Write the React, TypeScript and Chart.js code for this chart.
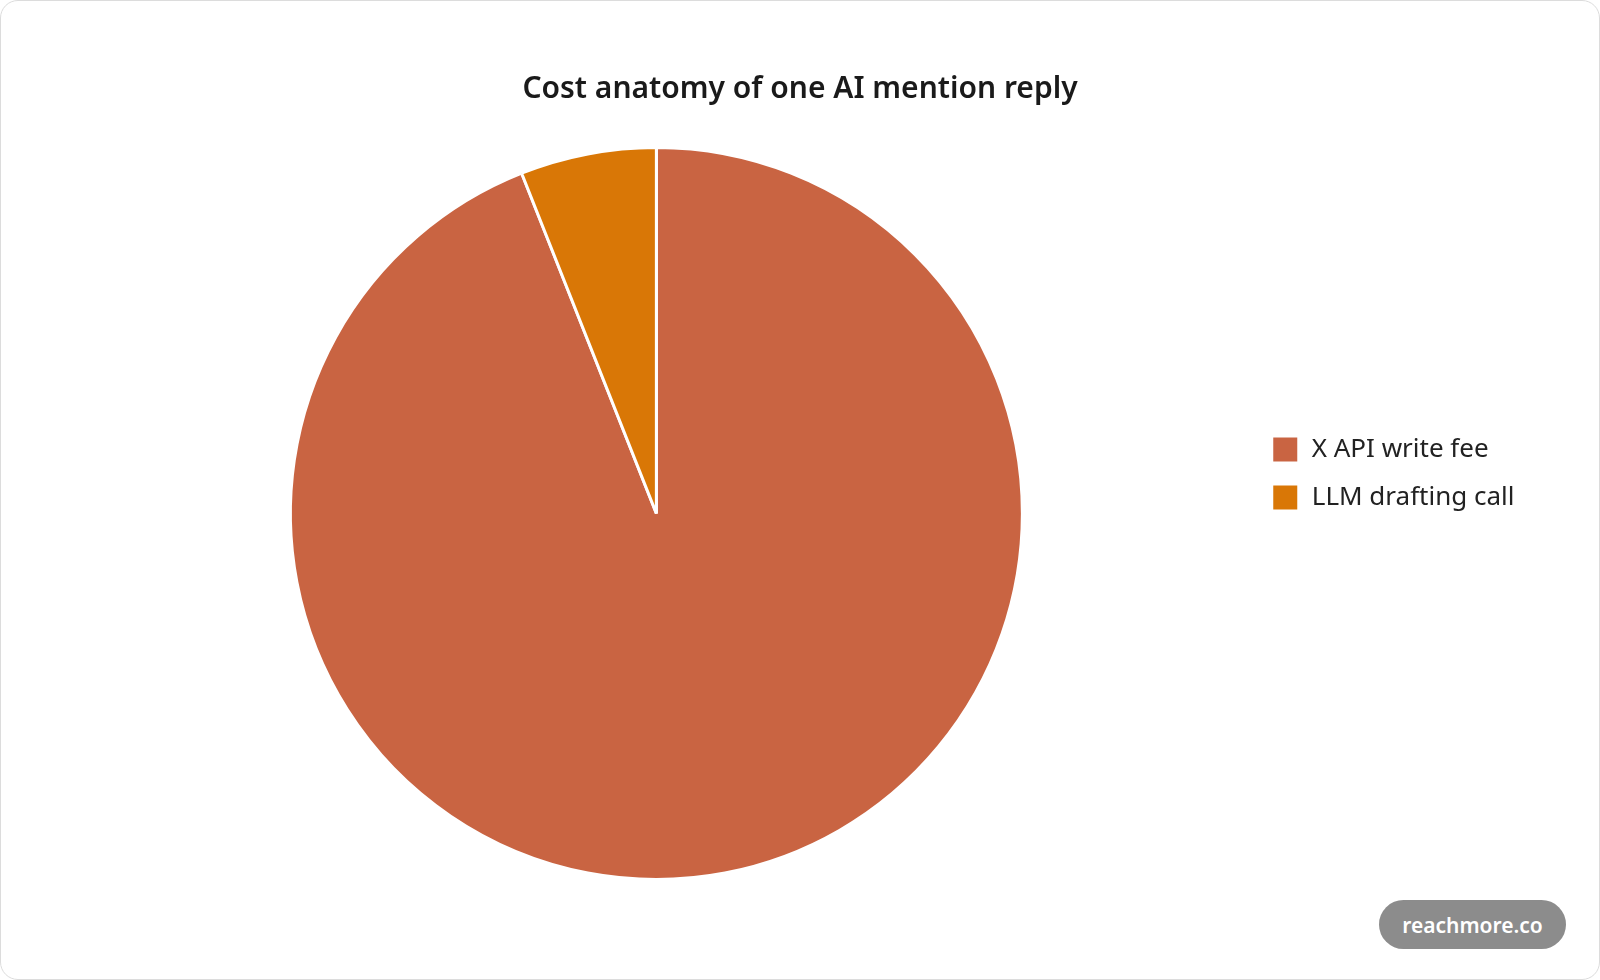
import { useEffect, useRef } from 'react';
import Chart, { ChartConfiguration } from 'chart.js/auto';

const categories = ['X API write fee', 'LLM drafting call'];
const costShare = [94, 6];
const sliceColors = ['#c96442', '#d97706'];

const FONT = "'Noto Sans', 'Open Sans', sans-serif";

const getChartConfig = (): ChartConfiguration<'pie'> => ({
  type: 'pie',
  data: {
    labels: categories,
    datasets: [
      {
        data: costShare,
        backgroundColor: sliceColors,
        borderColor: '#ffffff',
        borderWidth: 3,
      },
    ],
  },
  options: {
    animation: false,
    responsive: false,
    layout: {
      padding: { top: 65, bottom: 98, left: 61, right: 61 },
    },
    plugins: {
      title: {
        display: true,
        text: 'Cost anatomy of one AI mention reply',
        color: '#1a1a1a',
        font: { family: FONT, size: 30, weight: 600 },
        padding: { top: 5, bottom: 39 },
      },
      legend: {
        position: 'right',
        labels: {
          color: '#222222',
          font: { family: FONT, size: 26 },
          boxWidth: 27,
          boxHeight: 27,
          padding: 21,
          // trailing spaces widen the legend column a little, as in the reference
          generateLabels: (chart) =>
            Chart.overrides.pie.plugins.legend.labels
              .generateLabels(chart)
              .map((item) => ({ ...item, text: item.text + '  ' })),
        },
      },
      tooltip: { enabled: false },
    },
  },
});

const App = () => {
  const canvasRef = useRef<HTMLCanvasElement>(null);
  const chartRef = useRef<Chart<'pie'> | null>(null);

  useEffect(() => {
    document.body.style.margin = '0';
    const canvas = canvasRef.current;
    const context = canvas?.getContext('2d');
    if (!canvas || !context) return;

    chartRef.current?.destroy();
    chartRef.current = new Chart(context, getChartConfig());

    return () => {
      chartRef.current?.destroy();
    };
  }, []);

  return (
    <div
      style={{
        position: 'relative',
        boxSizing: 'border-box',
        width: 1600,
        height: 980,
        border: '1px solid #dcdcdc',
        borderRadius: 18,
        background: '#ffffff',
        overflow: 'hidden',
      }}
    >
      <canvas ref={canvasRef} width={1598} height={978} style={{ display: 'block' }} />
      <div
        style={{
          position: 'absolute',
          left: 1378,
          top: 899,
          width: 187,
          height: 49,
          borderRadius: 25,
          background: '#8c8c8c',
          color: '#ffffff',
          fontFamily: FONT,
          fontWeight: 600,
          fontSize: 21,
          display: 'flex',
          alignItems: 'center',
          justifyContent: 'center',
        }}
      >
        reachmore.co
      </div>
    </div>
  );
};

export default App;
